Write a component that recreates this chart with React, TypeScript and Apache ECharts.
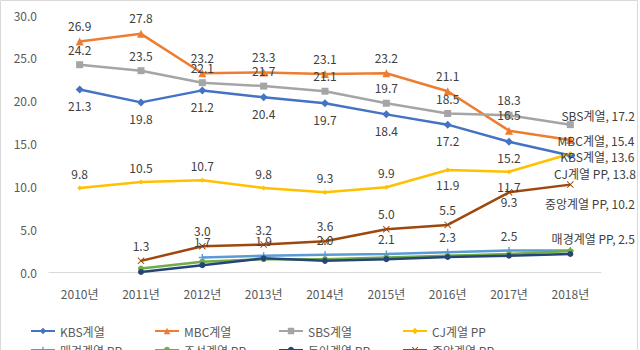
import React, { useEffect, useRef } from "react";
import * as echarts from "echarts";

const years = ["2010년", "2011년", "2012년", "2013년", "2014년", "2015년", "2016년", "2017년", "2018년"];
const kbs = [21.3, 19.8, 21.2, 20.4, 19.7, 18.4, 17.2, 15.2, 13.6];
const mbc = [26.9, 27.8, 23.2, 23.3, 23.1, 23.2, 21.1, 16.5, 15.4];
const sbs = [24.2, 23.5, 22.1, 21.7, 21.1, 19.7, 18.5, 18.3, 17.2];
const cj = [9.8, 10.5, 10.7, 9.8, 9.3, 9.9, 11.9, 11.7, 13.8];
const maekyung = [null, null, 1.7, 1.9, 2.0, 2.1, 2.3, 2.5, 2.5];
const chosun = [null, 0.4, 1.2, 1.5, 1.5, 1.7, 1.9, 2.1, 2.45];
const donga = [null, 0.0, 0.8, 1.6, 1.3, 1.5, 1.75, 1.9, 2.1];
const joongang = [null, 1.3, 3.0, 3.2, 3.6, 5.0, 5.5, 9.3, 10.2];
const yTicks = [0, 5, 10, 15, 20, 25, 30];

const FONT = "Noto Sans CJK KR";
const LABEL_COLOR = "#404040";

const PLUS = "path://M4,0 L6,0 L6,4 L10,4 L10,6 L6,6 L6,10 L4,10 L4,6 L0,6 L0,4 L4,4 Z";
const CROSS = "path://M0,1 L1,0 L5,4 L9,0 L10,1 L6,5 L10,9 L9,10 L5,6 L1,10 L0,9 L4,5 Z";

type SeriesDef = {
  name: string;
  data: (number | null)[];
  color: string;
  symbol: string;
  symbolSize: number;
  labels: boolean;
  pos: "top" | "bottom";
  overrides?: Record<number, any>;
  last?: [number, number];
};

const fmt = (p: any) => (p.value == null ? "" : Number(p.value).toFixed(1));

export default function App() {
  const ref = useRef<HTMLDivElement>(null);
  useEffect(() => {
    document.body.style.margin = "0";
    const chart = echarts.init(ref.current!, null, { renderer: "svg" });

    const defs: SeriesDef[] = [
      { name: "KBS계열", data: kbs, color: "#4472C4", symbol: "diamond", symbolSize: 8, labels: true, pos: "bottom", last: [68, 1] },
      { name: "MBC계열", data: mbc, color: "#ED7D31", symbol: "triangle", symbolSize: 8, labels: true, pos: "top", last: [68, 0] },
      { name: "SBS계열", data: sbs, color: "#A5A5A5", symbol: "rect", symbolSize: 7, labels: true, pos: "top", last: [68, -9] },
      { name: "CJ계열 PP", data: cj, color: "#FFC000", symbol: "diamond", symbolSize: 5, labels: true, pos: "top",
        overrides: { 6: { position: "bottom" }, 7: { position: "bottom" } }, last: [68, 20] },
      { name: "매경계열 PP", data: maekyung, color: "#5B9BD5", symbol: PLUS, symbolSize: 7, labels: true, pos: "top", last: [68, -12] },
      { name: "조선계열 PP", data: chosun, color: "#70AD47", symbol: "circle", symbolSize: 6, labels: false, pos: "top" },
      { name: "동아계열 PP", data: donga, color: "#264478", symbol: "circle", symbolSize: 6, labels: false, pos: "top" },
      { name: "중앙계열 PP", data: joongang, color: "#9E480E", symbol: CROSS, symbolSize: 7, labels: true, pos: "top",
        overrides: { 7: { position: "bottom", distance: 0 } }, last: [68, 19] },
    ];

    const series = defs.map((d) => {
      const n = d.data.length;
      const data = d.data.map((v, i) => {
        if (v == null) return v;
        if (d.last && i === n - 1) {
          return {
            value: v,
            label: {
              show: true,
              position: d.last.length ? [d.last[0], d.last[1] + d.symbolSize / 2] : "right",
              align: "right",
              verticalAlign: "middle",
              formatter: (p: any) => `${d.name}, ${Number(p.value).toFixed(1)}`,
            },
          };
        }
        if (d.overrides && d.overrides[i]) {
          return { value: v, label: { ...d.overrides[i] } };
        }
        return v;
      });
      return {
        name: d.name,
        type: "line",
        data,
        connectNulls: false,
        symbol: d.symbol,
        symbolSize: d.symbolSize,
        showAllSymbol: true,
        lineStyle: { width: 2.5, color: d.color },
        itemStyle: { color: d.color },
        label: {
          show: d.labels,
          position: d.pos,
          distance: 6,
          formatter: fmt,
          color: LABEL_COLOR,
          fontSize: 12,
          fontFamily: FONT,
        },
        emphasis: { disabled: true },
      };
    });

    const legendPos = [
      [30, 325], [154, 325], [278, 325], [402, 325],
      [30, 344], [154, 344], [278, 344], [402, 344],
    ];
    const legends = defs.map((d, i) => ({
      data: [d.name],
      left: legendPos[i][0],
      top: legendPos[i][1],
      itemWidth: 24,
      itemHeight: 8,
      padding: 0,
      textStyle: { color: "#595959", fontSize: 12, fontFamily: FONT },
      selectedMode: false,
    }));

    chart.setOption({
      animation: false,
      backgroundColor: "#fff",
      textStyle: { fontFamily: FONT },
      grid: { left: 49, right: 39, top: 15, bottom: 78, containLabel: false },
      legend: legends,
      xAxis: {
        type: "category",
        data: years,
        boundaryGap: true,
        axisLine: { show: true, lineStyle: { color: "#D9D9D9", width: 1 } },
        axisTick: { show: false },
        axisLabel: { color: "#595959", fontSize: 12, fontFamily: FONT, margin: 15 },
        splitLine: { show: false },
      },
      yAxis: {
        type: "value",
        min: yTicks[0],
        max: yTicks[yTicks.length - 1],
        interval: 5,
        axisLine: { show: false },
        axisTick: { show: false },
        splitLine: { show: false },
        axisLabel: { color: "#595959", fontSize: 12, fontFamily: FONT, margin: 12, formatter: (v: number) => v.toFixed(1) },
      },
      graphic: [
        {
          type: "rect",
          shape: { x: 0.5, y: 0.5, width: 637, height: 380 },
          style: { fill: "none", stroke: "#D9D9D9", lineWidth: 1 },
          silent: true,
        },
      ],
      series,
    });
    return () => chart.dispose();
  }, []);
  return <div ref={ref} style={{ width: 640, height: 350 }} />;
}
